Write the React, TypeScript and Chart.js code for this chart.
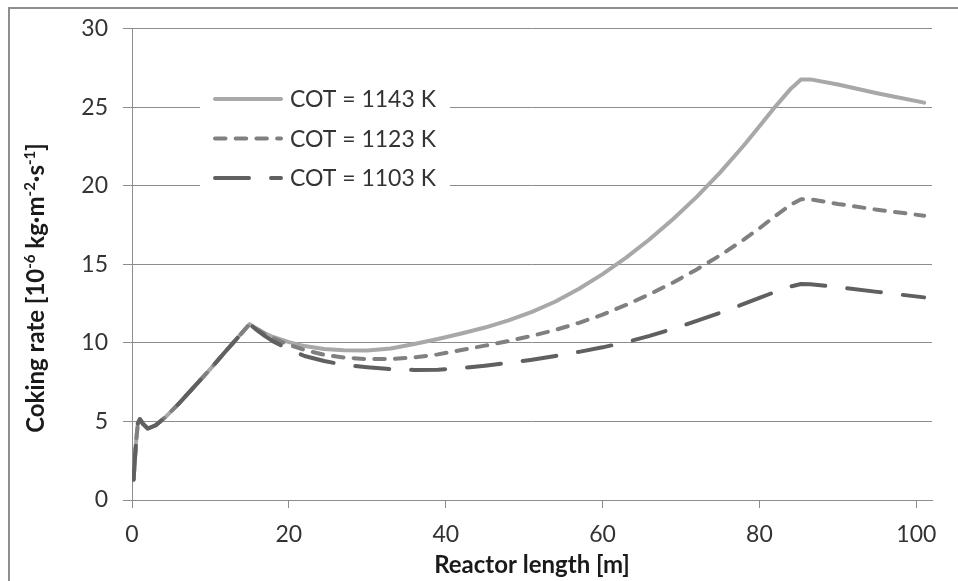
import React, { useEffect, useRef } from 'react';
import { Chart, registerables } from 'chart.js';

Chart.register(...registerables);

// ---- data ----
// shared inlet section (all three COT cases coincide)
const inletLength = [0.2, 0.5, 0.75, 1.0, 1.4, 2.0, 3.0, 4.2, 6, 8, 10, 12, 13.5];
const inletRate = [1.3, 3.6, 4.9, 5.15, 4.85, 4.55, 4.75, 5.25, 6.15, 7.25, 8.35, 9.5, 10.35];

// downstream section where the cases diverge
const outletLength = [15, 16, 17, 18, 20, 22, 24.5, 27, 30, 33, 36, 39, 42, 45, 48, 51, 54, 57, 60, 63, 66, 69, 72, 75, 78, 80, 82, 84, 85.3, 86.5, 90, 95, 101];
const rate1143 = [11.2, 10.88, 10.6, 10.38, 10.05, 9.8, 9.62, 9.54, 9.52, 9.65, 9.93, 10.25, 10.6, 10.98, 11.44, 11.98, 12.64, 13.45, 14.38, 15.43, 16.6, 17.89, 19.3, 20.86, 22.57, 23.79, 25.03, 26.19, 26.77, 26.78, 26.45, 25.9, 25.3];
const rate1123 = [11.2, 10.85, 10.55, 10.3, 9.88, 9.55, 9.25, 9.07, 8.97, 8.97, 9.08, 9.27, 9.55, 9.83, 10.12, 10.45, 10.83, 11.28, 11.8, 12.42, 13.1, 13.85, 14.68, 15.58, 16.58, 17.3, 18.08, 18.8, 19.15, 19.15, 18.85, 18.48, 18.1];
const rate1103 = [11.2, 10.78, 10.42, 10.1, 9.6, 9.17, 8.85, 8.6, 8.45, 8.33, 8.28, 8.3, 8.4, 8.55, 8.73, 8.93, 9.17, 9.43, 9.72, 10.05, 10.45, 10.9, 11.4, 11.92, 12.48, 12.87, 13.25, 13.6, 13.75, 13.74, 13.55, 13.25, 12.9];

const seriesLabels = ['COT = 1143 K', 'COT = 1123 K', 'COT = 1103 K'];
const xTickValues = [0, 20, 40, 60, 80, 100];
const yTickValues = [0, 5, 10, 15, 20, 25, 30];
const xTitle = 'Reactor length [m]';
const yTitleParts = [
  { text: 'Coking rate [10', sup: false },
  { text: '-6', sup: true },
  { text: ' kg\u00b7m', sup: false },
  { text: '-2', sup: true },
  { text: '\u00b7s', sup: false },
  { text: '-1', sup: true },
  { text: ']', sup: false },
];

// ---- styling ----
const FONT = 'Lato, "Open Sans", "DejaVu Sans", sans-serif';
const GRID = '#8c8c8c';
const TEXT = '#333333';
const TITLE = '#1a1a1a';

const toPoints = (ys: number[]) =>
  inletLength.map((x, i) => ({ x, y: inletRate[i] })).concat(outletLength.map((x, i) => ({ x, y: ys[i] })));

const overlayPlugin = {
  id: 'overlay',
  afterDatasetsDraw(chart: any) {
    const ctx = chart.ctx as CanvasRenderingContext2D;
    ctx.save();
    // legend box (inside plot area)
    ctx.fillStyle = '#ffffff';
    ctx.fillRect(200, 82, 250, 112);
    chart.data.datasets.forEach((ds: any, i: number) => {
      const y = 99 + i * 39.5;
      ctx.strokeStyle = ds.borderColor;
      ctx.lineWidth = ds.borderWidth;
      ctx.lineCap = 'round';
      ctx.setLineDash(ds.borderDash || []);
      ctx.beginPath();
      ctx.moveTo(215, y);
      ctx.lineTo(281, y);
      ctx.stroke();
      ctx.setLineDash([]);
      ctx.fillStyle = TEXT;
      ctx.font = `23px ${FONT}`;
      ctx.textAlign = 'left';
      ctx.textBaseline = 'middle';
      ctx.fillText(ds.label, 290, y + 1);
    });
    ctx.restore();
  },
  afterDraw(chart: any) {
    const ctx = chart.ctx as CanvasRenderingContext2D;
    const area = chart.chartArea;
    ctx.save();
    // x title
    ctx.fillStyle = TITLE;
    ctx.font = `bold 24px ${FONT}`;
    ctx.textAlign = 'center';
    ctx.textBaseline = 'middle';
    ctx.fillText(xTitle, (area.left + area.right) / 2, 565);
    // y title with superscripts
    const mainFont = `bold 24px ${FONT}`;
    const supFont = `bold 15px ${FONT}`;
    ctx.translate(35, 288);
    ctx.rotate(-Math.PI / 2);
    let total = 0;
    yTitleParts.forEach((p) => {
      ctx.font = p.sup ? supFont : mainFont;
      total += ctx.measureText(p.text).width;
    });
    let x = -total / 2;
    ctx.textAlign = 'left';
    ctx.textBaseline = 'alphabetic';
    yTitleParts.forEach((p) => {
      ctx.font = p.sup ? supFont : mainFont;
      ctx.fillText(p.text, x, p.sup ? -0.5 : 8.5);
      x += ctx.measureText(p.text).width;
    });
    ctx.restore();
  },
};

export default function App() {
  const ref = useRef<HTMLCanvasElement>(null);
  useEffect(() => {
    const canvas = ref.current!;
    const chart = new Chart(canvas, {
      type: 'line',
      data: {
        datasets: [
          {
            label: seriesLabels[0],
            data: toPoints(rate1143),
            borderColor: '#a8a8a8',
            borderWidth: 4,
            borderDash: [],
            order: 3,
          },
          {
            label: seriesLabels[1],
            data: toPoints(rate1123),
            borderColor: '#808080',
            borderWidth: 4,
            borderDash: [10.5, 10.2],
            order: 2,
          },
          {
            label: seriesLabels[2],
            data: toPoints(rate1103),
            borderColor: '#606060',
            borderWidth: 4,
            borderDash: [34, 22],
            order: 1,
          },
        ].map((d) => ({
          ...d,
          pointRadius: 0,
          tension: 0,
          fill: false,
          borderCapStyle: 'round' as const,
          borderJoinStyle: 'round' as const,
        })),
      },
      options: {
        responsive: false,
        animation: false,
        devicePixelRatio: 1,
        layout: { padding: { left: 0, right: 26, top: 24, bottom: 0 } },
        plugins: { legend: { display: false }, tooltip: { enabled: false } },
        scales: {
          x: {
            type: 'linear',
            min: 0,
            max: 102,
            afterBuildTicks: (s: any) => {
              s.ticks = xTickValues.map((v) => ({ value: v }));
            },
            afterFit: (s: any) => {
              s.height = 81;
            },
            grid: { drawOnChartArea: false, color: GRID, tickLength: 8, lineWidth: 1 },
            border: { color: GRID, width: 1 },
            ticks: { color: TEXT, font: { family: FONT, size: 23 }, padding: 13, maxRotation: 0, autoSkip: false },
          },
          y: {
            type: 'linear',
            min: 0,
            max: 30,
            afterBuildTicks: (s: any) => {
              s.ticks = yTickValues.map((v) => ({ value: v }));
            },
            afterFit: (s: any) => {
              s.width = 132;
            },
            grid: { color: GRID, tickLength: 9, lineWidth: 1 },
            border: { color: GRID, width: 1 },
            ticks: { color: TEXT, font: { family: FONT, size: 23 }, padding: 15 },
          },
        },
      },
      plugins: [overlayPlugin],
    } as any);
    return () => chart.destroy();
  }, []);
  return (
    <div>
      <div
        style={{
          position: 'absolute',
          left: 8,
          top: 7,
          width: 950,
          height: 574,
          boxSizing: 'border-box',
          borderTop: '2px solid #8e8e8e',
          borderLeft: '2px solid #8e8e8e',
        }}
      />
      <canvas
        ref={ref}
        width={958}
        height={581}
        style={{ position: 'absolute', left: 0, top: 0, width: 958, height: 581 }}
      />
    </div>
  );
}
